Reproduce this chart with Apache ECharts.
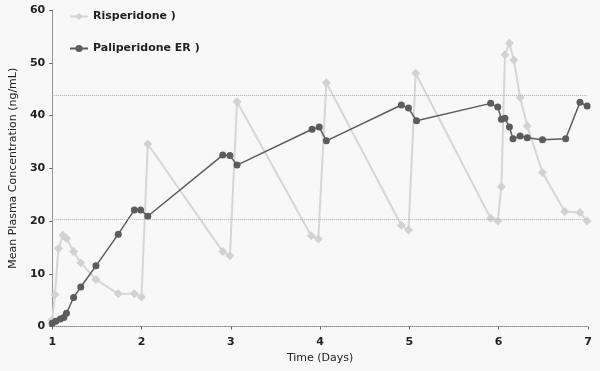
<!DOCTYPE html>
<html>
<head>
<meta charset="utf-8">
<script src="https://cdn.jsdelivr.net/npm/echarts@6/dist/echarts.min.js"></script>
<style>
  html, body { margin: 0; padding: 0; background: #f8f8f8; }
  #chart { width: 600px; height: 371px; }
</style>
</head>
<body>
<div id="chart"></div>
<script>
// Risperidone: [day, ng/mL]
const risperidone = [
  [1.0, 1.3], [1.03, 6.0], [1.07, 14.8], [1.12, 17.3], [1.16, 16.7],
  [1.24, 14.2], [1.32, 12.1], [1.49, 8.9], [1.74, 6.2], [1.92, 6.2],
  [2.0, 5.6], [2.07, 34.6], [2.91, 14.2], [2.99, 13.4], [3.07, 42.6],
  [3.9, 17.2], [3.98, 16.6], [4.07, 46.2], [4.91, 19.2], [4.99, 18.3],
  [5.07, 48.0], [5.91, 20.5], [5.99, 20.0], [6.03, 26.5], [6.07, 51.5],
  [6.12, 53.7], [6.17, 50.5], [6.24, 43.4], [6.32, 38.0], [6.49, 29.2],
  [6.74, 21.8], [6.91, 21.6], [6.99, 20.0]
]
// Paliperidone ER: [day, ng/mL]
const paliperidone = [
  [1.0, 0.6], [1.04, 1.0], [1.09, 1.4], [1.13, 1.7], [1.16, 2.5],
  [1.24, 5.5], [1.32, 7.5], [1.49, 11.5], [1.74, 17.5], [1.92, 22.1],
  [1.99, 22.1], [2.07, 20.9], [2.91, 32.5], [2.99, 32.4], [3.07, 30.6],
  [3.91, 37.4], [3.99, 37.8], [4.07, 35.2], [4.91, 42.0], [4.99, 41.4],
  [5.08, 39.0], [5.91, 42.3], [5.99, 41.6], [6.03, 39.3], [6.07, 39.5],
  [6.12, 37.8], [6.16, 35.6], [6.24, 36.1], [6.32, 35.8], [6.49, 35.4],
  [6.75, 35.6], [6.91, 42.5], [6.99, 41.8]
]
const refLines = [43.9, 20.3]
const seriesNames = ['Risperidone )', 'Paliperidone ER )']

const chart = echarts.init(document.getElementById('chart'))
const font = 'DejaVu Sans'

chart.setOption({
  backgroundColor: '#f8f8f8',
  animation: false,
  textStyle: { fontFamily: font },
  grid: { left: 52, right: 12, top: 10, bottom: 44.5 },
  legend: {
    orient: 'vertical',
    left: 64,
    top: 6,
    itemGap: 21,
    itemWidth: 18,
    itemHeight: 9,
    textStyle: { color: '#222', fontSize: 11, fontWeight: 'bold', fontFamily: font },
    data: seriesNames
  },
  xAxis: {
    type: 'value',
    min: 1,
    max: 7,
    interval: 1,
    name: 'Time (Days)',
    nameLocation: 'middle',
    nameGap: 26,
    nameTextStyle: { color: '#222', fontSize: 11, fontFamily: font },
    axisLine: { lineStyle: { color: '#888', type: 'dotted' } },
    axisTick: { length: 3, lineStyle: { color: '#666' } },
    axisLabel: { color: '#222', fontSize: 11, fontWeight: 'bold', margin: 10 },
    splitLine: { show: false }
  },
  yAxis: {
    type: 'value',
    min: 0,
    max: 60,
    interval: 10,
    name: 'Mean Plasma Concentration (ng/mL)',
    nameLocation: 'middle',
    nameGap: 31,
    nameTextStyle: { color: '#222', fontSize: 11, fontFamily: font },
    axisLine: { show: true, lineStyle: { color: '#888', type: 'dotted' } },
    axisTick: { show: true, length: 3, lineStyle: { color: '#666' } },
    axisLabel: { color: '#222', fontSize: 11, fontWeight: 'bold', margin: 7 },
    splitLine: { show: false }
  },
  series: [
    {
      name: seriesNames[0],
      type: 'line',
      data: risperidone,
      symbol: 'diamond',
      symbolSize: 9,
      color: '#d2d2d2',
      lineStyle: { width: 2, color: '#d6d6d6' },
      itemStyle: { color: '#d2d2d2' },
      markLine: {
        silent: true,
        symbol: 'none',
        label: { show: false },
        lineStyle: { color: '#b0b0b0', type: 'dotted', width: 1 },
        data: refLines.map((v) => ({ yAxis: v }))
      },
      z: 2
    },
    {
      name: seriesNames[1],
      type: 'line',
      data: paliperidone,
      symbol: 'circle',
      symbolSize: 7,
      color: '#5c5c5c',
      lineStyle: { width: 1.5, color: '#5c5c5c' },
      itemStyle: { color: '#5c5c5c' },
      z: 3
    }
  ]
})
</script>
</body>
</html>
